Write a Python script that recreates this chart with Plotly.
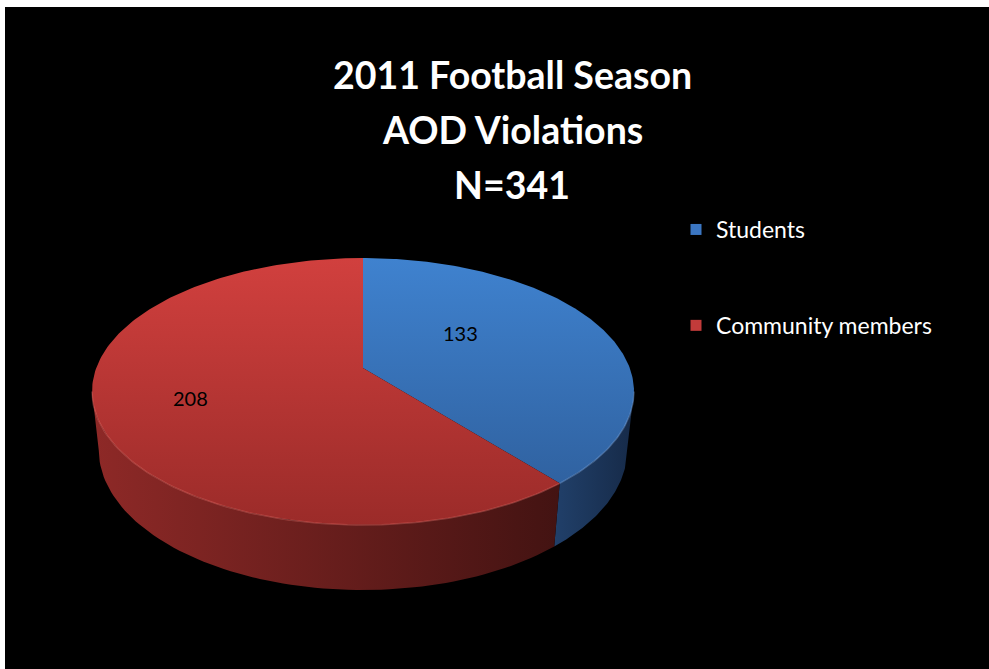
import numpy as np
import plotly.graph_objects as go

# ---- data -------------------------------------------------------------
categories = ["Students", "Community members"]
counts = [133, 208]
title_lines = ["2011 Football Season", "AOD Violations"]

# ---- styling ----------------------------------------------------------
top_grad = [("#3f82cf", "#2d5c98"), ("#d1403e", "#9b2b29")]
side_grad = [("#21406a", "#162a48"), ("#8e2927", "#431312")]
legend_colors = ["#3b76c2", "#c23b3a"]
rim_colors = ["rgba(140,180,235,0.35)", "rgba(240,120,115,0.35)"]
label_radius = [0.476, 0.66]
label_turn = [16.8, 0.0]

# ---- perspective disc --------------------------------------------------
CX, CY = 363.0, 368.0          # screen position of the pie's apex
F = 1323.0                     # focal scale
D = 4.96                       # camera distance (in radii)
PHI = np.radians(29.0)         # viewing elevation
H = 0.253                      # disc thickness (in radii)


def project(theta_deg, r=1.0, h=0.0):
    t = np.radians(np.asarray(theta_deg, dtype=float))
    X = r * np.cos(t)
    Y = r * np.sin(t)
    yc = Y * np.sin(PHI) + h * np.cos(PHI)
    zc = D + Y * np.cos(PHI) - h * np.sin(PHI)
    return CX + F * X / zc, CY - F * yc / zc


total = sum(counts)
bounds = [90.0]
for c in counts:
    bounds.append(bounds[-1] - 360.0 * c / total)

k = np.cos(PHI) / D
sil_right = -np.degrees(np.arcsin(k))
sil_left = -180.0 + np.degrees(np.arcsin(k))

fig = go.Figure()

# side walls (front half only)
for i, name in enumerate(categories):
    a0, a1 = bounds[i], bounds[i + 1]   # a1 < a0 (clockwise)
    for shift in (0.0, 360.0, -360.0):
        lo = max(a1 + shift, sil_left)
        hi = min(a0 + shift, sil_right)
        if hi > lo:
            th = np.linspace(lo, hi, 80)
            xt, yt = project(th, 1.0, 0.0)
            xb, yb = project(th[::-1], 1.0, -H)
            fig.add_trace(go.Scatter(
                x=np.concatenate([xt, xb, xt[:1]]),
                y=np.concatenate([yt, yb, yt[:1]]),
                mode="lines", line=dict(width=0), fill="toself",
                fillgradient=dict(type="horizontal",
                                  colorscale=[[0, side_grad[i][0]], [1, side_grad[i][1]]]),
                hoverinfo="skip", showlegend=False))

# top faces
ytop = project(90.0)[1]
ybot = project(-90.0)[1]
for i, name in enumerate(categories):
    a0, a1 = bounds[i], bounds[i + 1]
    th = np.linspace(a0, a1, 200)
    xs, ys = project(th)
    fig.add_trace(go.Scatter(
        x=np.concatenate([[CX], xs, [CX]]),
        y=np.concatenate([[CY], ys, [CY]]),
        mode="lines", line=dict(width=0), fill="toself",
        fillgradient=dict(type="vertical", start=ytop, stop=ybot,
                          colorscale=[[0, top_grad[i][0]], [1, top_grad[i][1]]]),
        hoverinfo="text", text=f"{name}: {counts[i]}", showlegend=False))
    # soft highlight along the front rim
    for shift in (0.0, 360.0, -360.0):
        lo = max(a1 + shift, sil_left)
        hi = min(a0 + shift, sil_right)
        if hi > lo:
            rt = np.linspace(lo, hi, 80)
            rx, ry = project(rt)
            fig.add_trace(go.Scatter(x=rx, y=ry, mode="lines",
                                     line=dict(width=1.5, color=rim_colors[i]),
                                     hoverinfo="skip", showlegend=False))

# value labels
for i, c in enumerate(counts):
    mid = (bounds[i] + bounds[i + 1]) / 2 + label_turn[i]
    lx, ly = project(mid, label_radius[i])
    fig.add_annotation(x=float(lx), y=float(ly), text=str(c), showarrow=False,
                       font=dict(family="Lato", size=20, color="black"))

# legend entries
for i, name in enumerate(categories):
    fig.add_trace(go.Scatter(
        x=[None], y=[None], mode="markers", name=name, legendgroup=name,
        marker=dict(symbol="square", size=11, color=legend_colors[i],
                    line=dict(width=0))))

# title
lines = title_lines + [f"N={total}"]
for j, txt in enumerate(lines):
    fig.add_annotation(x=512, y=74 + 55 * j, text=f"<b>{txt}</b>", showarrow=False,
                       yanchor="middle",
                       font=dict(family="Lato", size=37.5, color="white"))

W, Hpx = 989, 669
fig.update_layout(
    width=W, height=Hpx,
    margin=dict(l=0, r=0, t=0, b=0),
    paper_bgcolor="white", plot_bgcolor="black",
    xaxis=dict(range=[5, W], domain=[5 / W, 1], visible=False, fixedrange=True),
    yaxis=dict(range=[Hpx, 7], domain=[0, (Hpx - 7) / Hpx], visible=False, fixedrange=True),
    legend=dict(x=676 / W, y=1 - 208 / Hpx, xanchor="left", yanchor="top",
                bgcolor="rgba(0,0,0,0)", font=dict(family="Lato", size=23, color="white"),
                traceorder="grouped", tracegroupgap=63, itemwidth=30),
    showlegend=True,
)

fig.write_html("out.html")
